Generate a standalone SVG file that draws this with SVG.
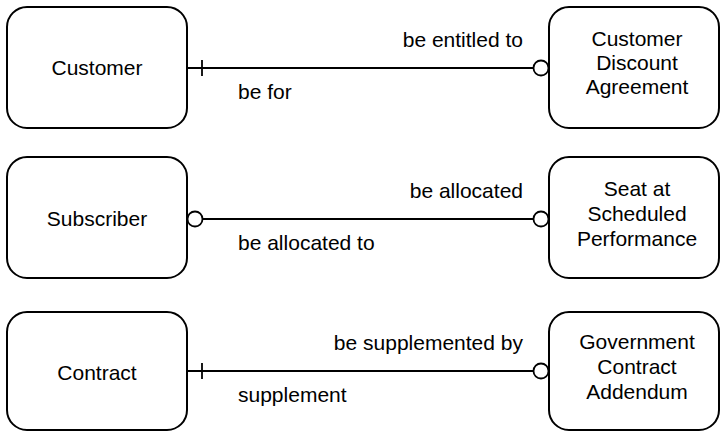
<svg xmlns="http://www.w3.org/2000/svg" width="721" height="432" viewBox="0 0 721 432">
  <style>
    .box { fill: #ffffff; stroke: #000000; stroke-width: 2; }
    .ln { fill: none; stroke: #000000; stroke-width: 1.8; }
    .opt { fill: #ffffff; stroke: #000000; stroke-width: 1.8; }
    text { font-family: "Liberation Sans", Arial, sans-serif; font-size: 21px; fill: #000000; }
    .c { text-anchor: middle; }
    .e { text-anchor: end; }
  </style>
  <rect width="721" height="432" fill="#ffffff"/>

  <g id="connectors">
    <!-- Customer – Customer Discount Agreement -->
    <line class="ln" x1="187" y1="68" x2="533.5" y2="68"/>
    <line class="ln" x1="202" y1="60" x2="202" y2="76"/>
    <circle class="opt" cx="541" cy="68" r="7.5"/>
    <text class="e" x="523" y="47">be entitled to</text>
    <text x="238" y="99">be for</text>

    <!-- Subscriber – Seat at Scheduled Performance -->
    <line class="ln" x1="202.5" y1="219" x2="533.5" y2="219"/>
    <circle class="opt" cx="195" cy="219" r="7.5"/>
    <circle class="opt" cx="541" cy="219" r="7.5"/>
    <text class="e" x="523" y="198">be allocated</text>
    <text x="238" y="250">be allocated to</text>

    <!-- Contract – Government Contract Addendum -->
    <line class="ln" x1="187" y1="371" x2="533.5" y2="371"/>
    <line class="ln" x1="202" y1="363" x2="202" y2="379"/>
    <circle class="opt" cx="541" cy="371" r="7.5"/>
    <text class="e" x="523" y="350">be supplemented by</text>
    <text x="238" y="402">supplement</text>
  </g>

  <g id="customer">
    <rect class="box" x="7" y="7" width="180" height="121" rx="20"/>
    <text class="c" x="97" y="75">Customer</text>
  </g>
  <g id="customer-discount-agreement">
    <rect class="box" x="549" y="7" width="170" height="121" rx="20"/>
    <text class="c" x="637" y="46">Customer</text>
    <text class="c" x="637" y="70">Discount</text>
    <text class="c" x="637" y="94">Agreement</text>
  </g>

  <g id="subscriber">
    <rect class="box" x="7" y="157" width="180" height="121" rx="20"/>
    <text class="c" x="97" y="226">Subscriber</text>
  </g>
  <g id="seat-at-scheduled-performance">
    <rect class="box" x="549" y="157" width="170" height="121" rx="20"/>
    <text class="c" x="637" y="196">Seat at</text>
    <text class="c" x="637" y="221">Scheduled</text>
    <text class="c" x="637" y="246">Performance</text>
  </g>

  <g id="contract">
    <rect class="box" x="7" y="312" width="180" height="118" rx="20"/>
    <text class="c" x="97" y="380">Contract</text>
  </g>
  <g id="government-contract-addendum">
    <rect class="box" x="549" y="312" width="170" height="118" rx="20"/>
    <text class="c" x="637" y="349">Government</text>
    <text class="c" x="637" y="374">Contract</text>
    <text class="c" x="637" y="399">Addendum</text>
  </g>
</svg>
